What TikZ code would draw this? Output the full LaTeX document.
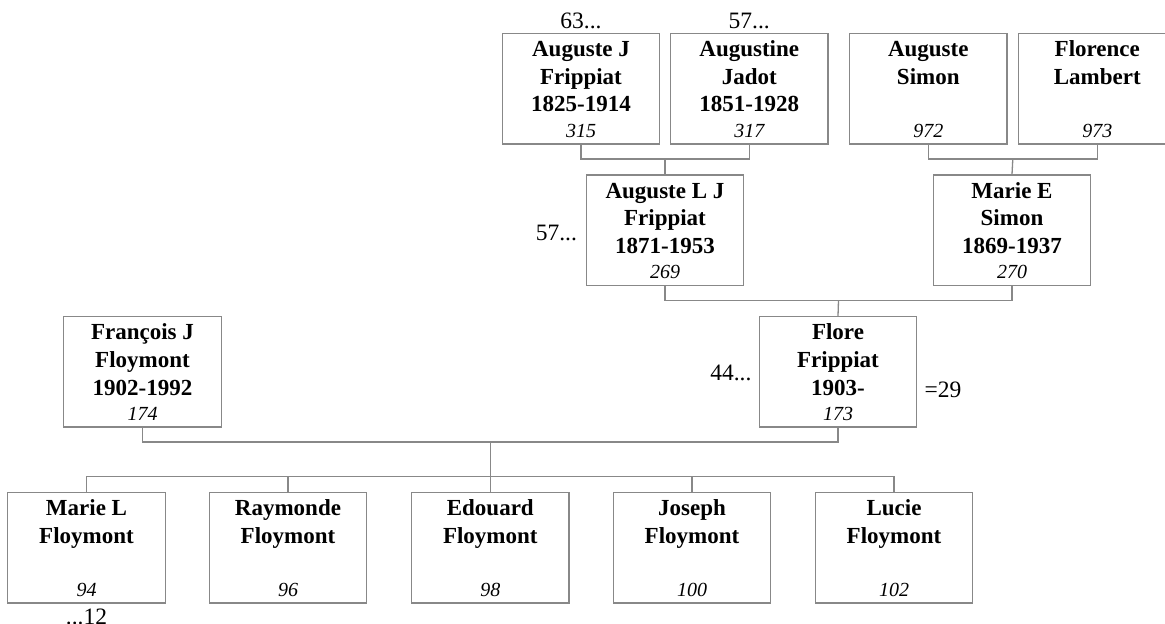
\documentclass[tikz,border=0pt]{standalone}
\usepackage{fontspec}
\setmainfont{Liberation Serif}
\definecolor{linegray}{RGB}{136,136,136}
\tikzset{
  pbox/.style={draw=linegray, line width=1.3pt, minimum width=157.5pt, minimum height=110.5pt, inner sep=0pt, fill=white},
  pname/.style={anchor=north, align=center, inner sep=0pt, font=\fontsize{23}{27.8}\selectfont\bfseries},
  pnum/.style={anchor=base, inner sep=0pt, font=\fontsize{20}{24}\selectfont\itshape},
  extra/.style={inner sep=0pt, font=\fontsize{23.5}{27}\selectfont},
  conn/.style={draw=linegray, line width=1.3pt}
}
\newcommand{\person}[4]{%
  \node[pbox] (#1) at (#2) {};
  \node[pname] (#1-name) at ([yshift=-5.4pt]#1.north) {\rule{0pt}{18pt}#3};
  \node[pnum] (#1-num) at ([yshift=7.3pt]#1.south) {#4};
}
\begin{document}
\begin{tikzpicture}[x=1pt,y=-1pt]
\useasboundingbox (0,0) rectangle (1165,624);
\coordinate (j1) at (665,159);
\coordinate (j2) at (1012.8,159);
\coordinate (j3) at (838.5,300.7);
\coordinate (j4) at (490.3,442);
\coordinate (j5) at (490.3,476.7);
% persons
\person{A1}{581,88.6}{Auguste J\\Frippiat\\1825-1914}{315}
\person{A2}{749.3,88.6}{Augustine\\Jadot\\1851-1928}{317}
\person{A3}{928.3,88.6}{Auguste\\Simon}{972}
\person{A4}{1097.3,88.6}{Florence\\Lambert}{973}
\person{B1}{665,230.3}{Auguste L J\\Frippiat\\1871-1953}{269}
\person{B2}{1012,230.3}{Marie E\\Simon\\1869-1937}{270}
\person{C1}{142.5,371.7}{François J\\Floymont\\1902-1992}{174}
\person{C2}{838,371.7}{Flore\\Frippiat\\1903-}{173}
\person{D1}{86.5,547.7}{Marie L\\Floymont}{94}
\person{D2}{288,547.7}{Raymonde\\Floymont}{96}
\person{D3}{490.3,547.7}{Edouard\\Floymont}{98}
\person{D4}{692,547.7}{Joseph\\Floymont}{100}
\person{D5}{894,547.7}{Lucie\\Floymont}{102}
% connectors
\draw[conn] (A1.south) |- (j1) -| (A2.south);
\draw[conn] (j1) -- (B1.north);
\draw[conn] (A3.south) |- (j2) -| (A4.south);
\draw[conn] (j2) -- (B2.north);
\draw[conn] (B1.south) |- (j3) -| (B2.south);
\draw[conn] (j3) -- (C2.north);
\draw[conn] (C1.south) |- (j4) -| (C2.south);
\draw[conn] (j4) -- (j5);
\draw[conn] (D1.north) |- (j5) -| (D5.north);
\draw[conn] (D2.north) -- (D2.north |- j5);
\draw[conn] (D3.north) -- (D3.north |- j5);
\draw[conn] (D4.north) -- (D4.north |- j5);
% extra labels
\node[extra, anchor=base] (l63) at ([yshift=4pt]A1.north) {63...};
\node[extra, anchor=base] (l57a) at ([yshift=4pt]A2.north) {57...};
\node[extra, anchor=base east] (l57b) at ([xshift=-8.5pt,yshift=-9.7pt]B1.west) {57...};
\node[extra, anchor=base east] (l44) at ([xshift=-7pt,yshift=-8.3pt]C2.west) {44...};
\node[extra, anchor=base west] (l29) at ([xshift=7pt,yshift=-25.6pt]C2.east) {=29};
\node[extra, anchor=base] (l12) at ([yshift=-21pt]D1.south) {...12};
\end{tikzpicture}
\end{document}
